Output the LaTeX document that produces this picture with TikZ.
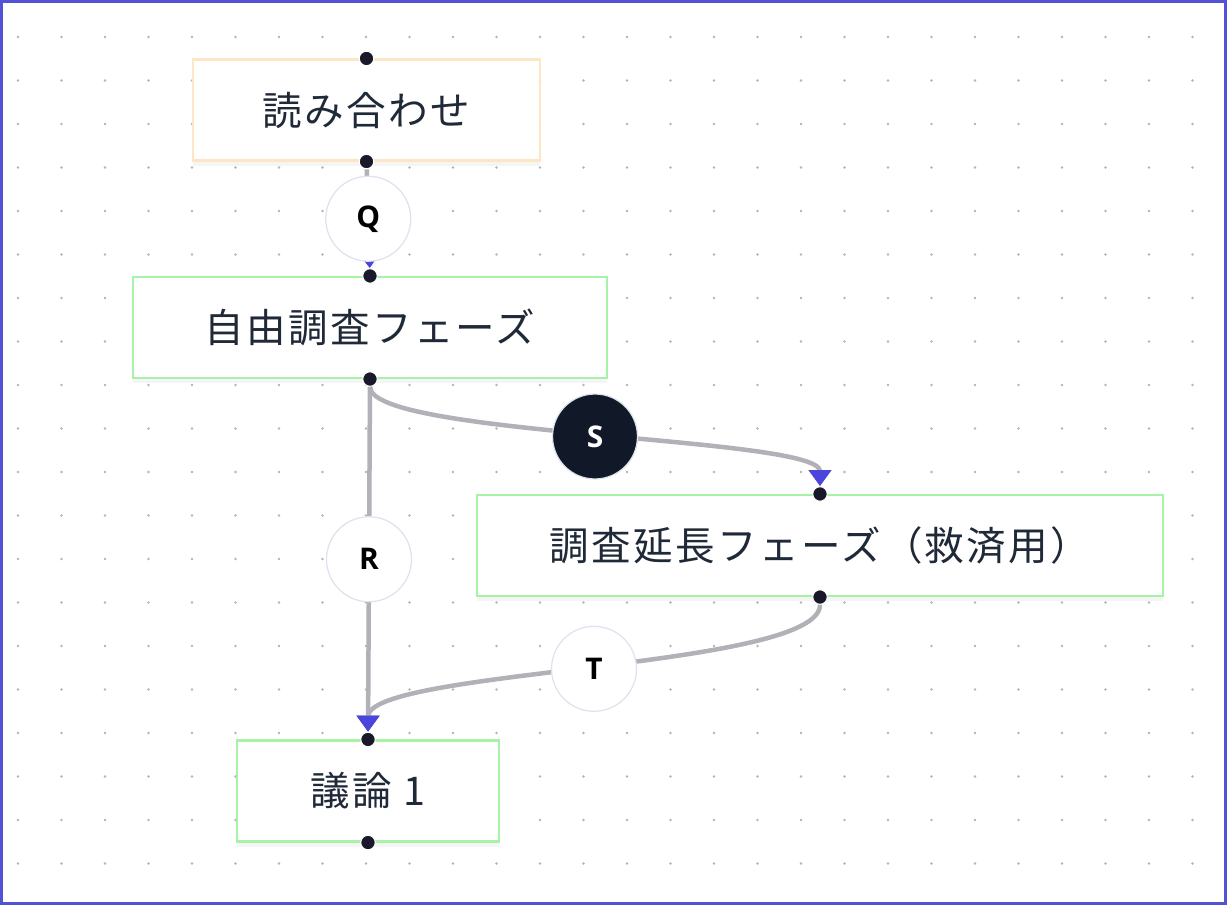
\documentclass[tikz,border=0pt]{standalone}
\usepackage{fontspec}
\setmainfont{Noto Sans CJK JP}[LetterSpace=6]
\newfontfamily\tagfont{Open Sans}
\usetikzlibrary{arrows.meta,shadows}

\definecolor{edgegray}{HTML}{B1B1B7}
\definecolor{arrowblue}{HTML}{4B45DB}
\definecolor{portdark}{HTML}{1A192B}
\definecolor{phasegreen}{HTML}{A6F2A6}
\definecolor{phasewarm}{HTML}{FDE6C4}
\definecolor{textdark}{HTML}{1F2937}
\definecolor{tagline}{HTML}{DDE3EE}
\definecolor{tagnight}{HTML}{111827}
\definecolor{griddot}{HTML}{B4B4B4}
\definecolor{framecol}{HTML}{5252D6}

\begin{document}
\begin{tikzpicture}[
      x=0.02cm, y=-0.02cm,
      phase/.style={rectangle, draw=phasegreen, line width=1.2pt, fill=white,
        minimum height=2.02cm, text=textdark, font=\fontsize{22.5}{26}\selectfont,
        drop shadow={shadow xshift=0pt, shadow yshift=-3pt, opacity=0.08}},
      warmphase/.style={phase, draw=phasewarm},
      port/.style={circle, fill=portdark, draw=white, line width=0.6pt,
        inner sep=0pt, minimum size=0.29cm},
      flow/.style={draw=edgegray, line width=0.09cm,
        -{Triangle[length=0.32cm, width=0.44cm, color=arrowblue]}},
      tag/.style={circle, fill=white, draw=tagline, line width=0.7pt,
        minimum size=1.7cm, inner sep=0pt, font=\tagfont\bfseries\fontsize{17}{19}\selectfont},
      nighttag/.style={tag, fill=tagnight, text=white}
  ]
  \useasboundingbox (0,0) rectangle (1227,905);

  % Dot grid and frame
  \foreach \i in {0,...,27}
    \foreach \j in {0,...,19}
      \fill[griddot] (18+43.5*\i, 37+43.5*\j) circle (0.026cm);
  \draw[framecol, line width=2pt] (1,1) rectangle (1226,904);

  % Phase boxes
  \node[warmphase, minimum width=6.94cm] (read) at (366.5,110) {読み合わせ};
  \node[phase, minimum width=9.48cm] (free) at (370,327.5) {自由調査フェーズ};
  \node[phase, minimum width=13.72cm] (ext) at (820,545.5) {調査延長フェーズ（救済用）};
  \node[phase, minimum width=5.24cm] (talk) at (368,791) {議論 1};

  % Handles
  \node[port] (read-in) at (read.north) {};
  \node[port] (read-out) at (read.south) {};
  \node[port] (free-in) at (free.north) {};
  \node[port] (free-out) at (free.south) {};
  \node[port] (ext-in) at (ext.north) {};
  \node[port] (ext-out) at (ext.south) {};
  \node[port] (talk-in) at (talk.north) {};
  \node[port] (talk-out) at (talk.south) {};

  % Edges with their labels
  \draw[flow] (read-out) -- node[tag] {Q} (free-in);
  \draw[flow] (free-out) -- node[tag] {R} (talk-in);
  \draw[flow] (free-out) .. controls (370,436.5) and (820,436.5) .. node[nighttag] {S} (ext-in);
  \draw[flow] (ext-out) .. controls (820,669) and (368,669) .. node[tag] {T} (talk-in);

  \end{tikzpicture}
\end{document}
